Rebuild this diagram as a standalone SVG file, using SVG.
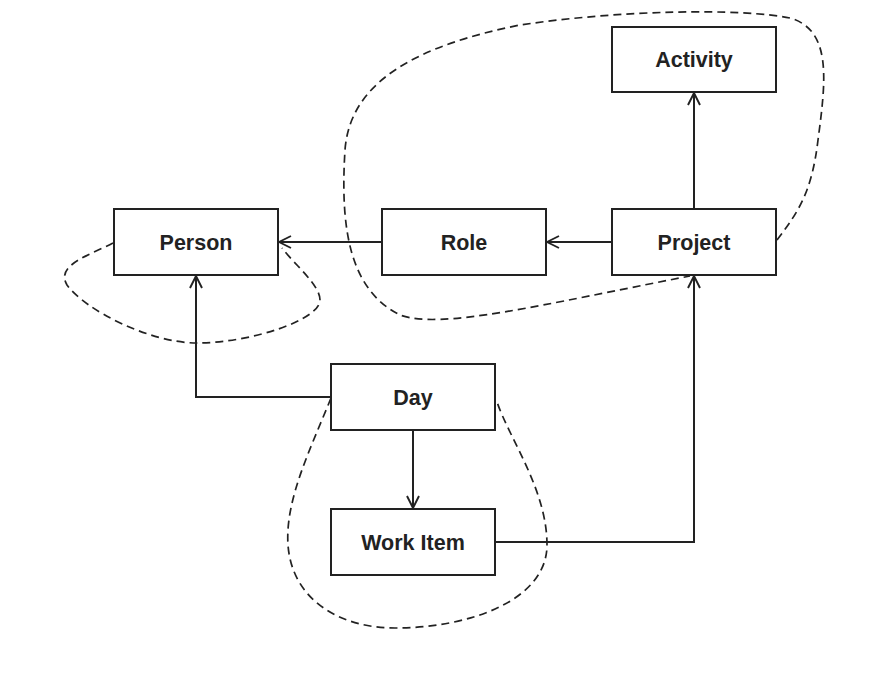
<svg xmlns="http://www.w3.org/2000/svg" width="895" height="674" viewBox="0 0 895 674">
<defs>
<style>
.box{fill:#fff;stroke:#222;stroke-width:2}
.lbl{font-family:"Liberation Sans",Arial,sans-serif;font-weight:bold;font-size:21.5px;fill:#222;text-anchor:middle}
.edge{fill:none;stroke:#222;stroke-width:2}
.blob{fill:none;stroke:#222;stroke-width:1.7;stroke-dasharray:8 5}
</style>
<marker id="arr" viewBox="0 0 14 14" refX="13" refY="7" markerWidth="14" markerHeight="14" markerUnits="userSpaceOnUse" orient="auto">
<path d="M1,1 L13,7 L1,13" fill="none" stroke="#222" stroke-width="1.9"/>
</marker>
</defs>
<rect width="895" height="674" fill="#fff"/>
<g id="groups">
<path class="blob" d="M113,243 C 90,255 55,265 67,285 C 85,310 150,343 197,343 C 250,343 320,320 320,300 C 320,285 295,265 282,248"/>
<path class="blob" d="M777,240 C 800,210 812,190 818,140 C 826,80 832,30 790,18 C 740,8 620,10 520,25 C 420,45 350,80 345,150 C 340,230 350,290 400,315 C 440,330 540,305 690,276"/>
<path class="blob" d="M331,398 C 310,450 285,500 288,545 C 292,600 340,628 395,628 C 470,628 547,600 547,545 C 547,490 510,440 497,402"/>
</g>
<g id="connectors">
<path class="edge" d="M694,209 L694,93" marker-end="url(#arr)"/>
<path class="edge" d="M612,242 L547,242" marker-end="url(#arr)"/>
<path class="edge" d="M382,242 L279,242" marker-end="url(#arr)"/>
<path class="edge" d="M331,397 L196,397 L196,276" marker-end="url(#arr)"/>
<path class="edge" d="M413,430 L413,508" marker-end="url(#arr)"/>
<path class="edge" d="M495,542 L694,542 L694,276" marker-end="url(#arr)"/>
</g>
<g id="activity"><rect class="box" x="612" y="27" width="164" height="65"/><text class="lbl" x="694" y="67">Activity</text></g>
<g id="project"><rect class="box" x="612" y="209" width="164" height="66"/><text class="lbl" x="694" y="249.5">Project</text></g>
<g id="role"><rect class="box" x="382" y="209" width="164" height="66"/><text class="lbl" x="464" y="249.5">Role</text></g>
<g id="person"><rect class="box" x="114" y="209" width="164" height="66"/><text class="lbl" x="196" y="249.5">Person</text></g>
<g id="day"><rect class="box" x="331" y="364" width="164" height="66"/><text class="lbl" x="413" y="404.5">Day</text></g>
<g id="workitem"><rect class="box" x="331" y="509" width="164" height="66"/><text class="lbl" x="413" y="549.5">Work Item</text></g>
</svg>
